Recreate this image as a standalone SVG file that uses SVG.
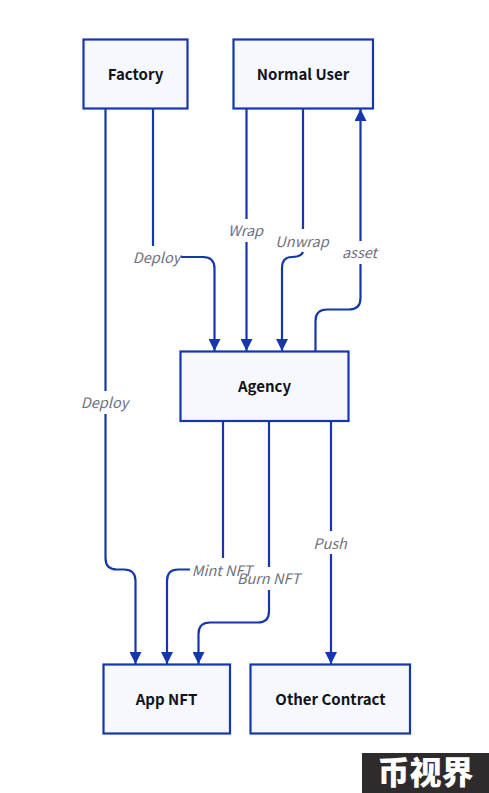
<svg xmlns="http://www.w3.org/2000/svg" width="489" height="793" viewBox="0 0 489 793">
<style>
text{font-family:"Noto Sans CJK SC","Noto Sans",sans-serif;text-anchor:middle}
.box{fill:#f6f8fd;stroke:#1437ac;stroke-width:2.2}
.name{font-size:15px;font-weight:700;fill:#11131c}
.lbl{font-size:14.500px;font-style:italic;fill:#6e7080}
.e{fill:none;stroke:#1437ac;stroke-width:2.200}
</style>
<defs>
<marker id="a" markerUnits="userSpaceOnUse" markerWidth="12" markerHeight="12" refX="12" refY="6" orient="auto"><path d="M0 0L12 6L0 12Z" fill="#1437ac"/></marker>
</defs>
<rect width="489" height="793" fill="#fff"/>
<g id="connectors">
<path class="e" d="M105.500 109V391M105.500 414V558Q105.500 569.500 117 569.500H124Q135.500 569.500 135.500 581V664" marker-end="url(#a)"/>
<path class="e" d="M153 109V246M181 257H203Q214.500 257 214.500 268.500V351" marker-end="url(#a)"/>
<path class="e" d="M246.500 109V219M246.500 242V351" marker-end="url(#a)"/>
<path class="e" d="M303 109V229M303 252Q301 257 292 257Q282 257 282 268V351" marker-end="url(#a)"/>
<path class="e" d="M315.500 351V321Q315.500 309.500 327 309.500H349Q360.500 309.500 360.500 298V264M360.500 241V109" marker-end="url(#a)"/>
<path class="e" d="M223 421V558M190 569.500H178Q167 569.500 167 581V664" marker-end="url(#a)"/>
<path class="e" d="M269 421V567M269 590V611Q269 622.500 258 622.500H210Q198.500 622.500 198.500 634V664" marker-end="url(#a)"/>
<path class="e" d="M331 421V531M331 554V664" marker-end="url(#a)"/>
</g>
<g id="factory"><rect class="box" x="83.500" y="39.500" width="104" height="69"/><text class="name" x="135.500" y="80">Factory</text></g>
<g id="normal-user"><rect class="box" x="233.500" y="39.500" width="139.500" height="69"/><text class="name" x="303" y="80">Normal User</text></g>
<g id="agency"><rect class="box" x="180.500" y="351.500" width="168" height="69.500"/><text class="name" x="264.500" y="392">Agency</text></g>
<g id="app-nft"><rect class="box" x="103.500" y="664.500" width="126.500" height="69"/><text class="name" x="166.500" y="705">App NFT</text></g>
<g id="other-contract"><rect class="box" x="250.500" y="664.500" width="159.500" height="69"/><text class="name" x="330.500" y="705">Other Contract</text></g>
<g id="labels">
<text class="lbl" x="156.500" y="263">Deploy</text>
<text class="lbl" x="245.500" y="236">Wrap</text>
<text class="lbl" x="302" y="247">Unwrap</text>
<text class="lbl" x="359.500" y="258">asset</text>
<text class="lbl" x="104.500" y="408">Deploy</text>
<text class="lbl" x="222" y="576">Mint NFT</text>
<text class="lbl" x="268.500" y="584">Burn NFT</text>
<text class="lbl" x="330" y="549">Push</text>
</g>
<g id="watermark"><rect x="362" y="753" width="127" height="40" fill="#2f2a2b"/><text x="425.500" y="784" font-size="32" font-weight="900" fill="#fff" style="font-family:'Noto Sans CJK SC',sans-serif">币视界</text></g>
</svg>
